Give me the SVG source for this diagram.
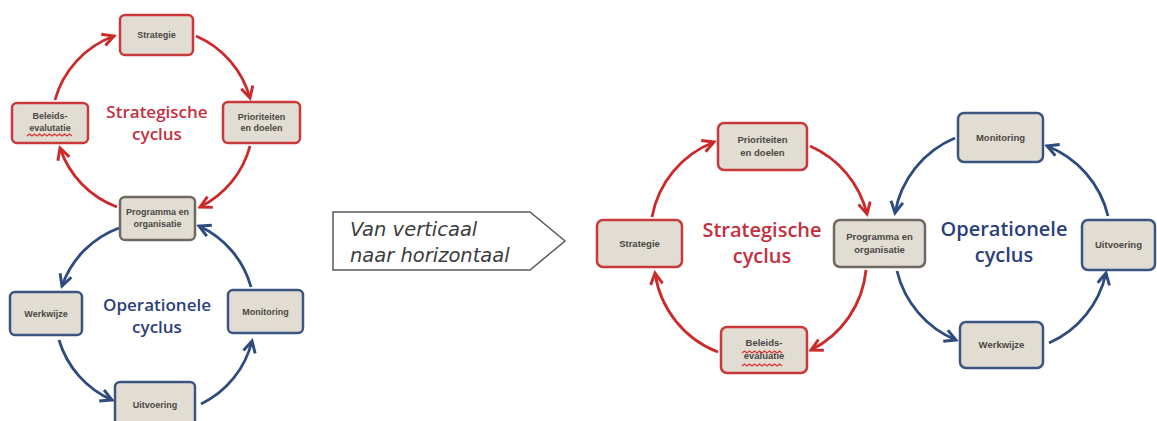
<svg xmlns="http://www.w3.org/2000/svg" width="1157" height="421" viewBox="0 0 1157 421">
<style>
.box{fill:#e2ddd2;stroke-width:2.5}
.r{stroke:#c9383a}
.g{stroke:#6e6963}
.b{stroke:#3b5583}
.lbl{font-family:"Liberation Sans",Arial,sans-serif;font-size:9px;font-weight:bold;fill:#4a4743;text-anchor:middle}
.lblb{font-size:9.5px}
.tr{font-family:"Open Sans","DejaVu Sans",sans-serif;font-size:17px;font-weight:600;fill:#c5303f;text-anchor:middle}
.tb{font-family:"Open Sans","DejaVu Sans",sans-serif;font-size:17px;font-weight:600;fill:#2b3f7c;text-anchor:middle}
.big{font-size:20px}
.ar{fill:none;stroke:#cc2a2a;stroke-width:2.8}
.ab{fill:none;stroke:#2d4b7d;stroke-width:2.8}
.sq{fill:none;stroke:#e03030;stroke-width:1.2}
.mid{font-family:"DejaVu Sans",sans-serif;font-style:italic;font-size:19.5px;fill:#3d3d3d}
</style>
<defs>
<marker id="mr" viewBox="0 0 12 12" refX="10" refY="6" markerWidth="16" markerHeight="16" markerUnits="userSpaceOnUse" orient="auto">
<path d="M1.5,1.5 L10,6 L1.5,10.5" fill="none" stroke="#cc2a2a" stroke-width="2.2"/>
</marker>
<marker id="mb" viewBox="0 0 12 12" refX="10" refY="6" markerWidth="16" markerHeight="16" markerUnits="userSpaceOnUse" orient="auto">
<path d="M1.5,1.5 L10,6 L1.5,10.5" fill="none" stroke="#2d4b7d" stroke-width="2.2"/>
</marker>
</defs>

<g id="connectors">
<path class="ar" d="M55,100 A95,95 0 0 1 114,36" marker-end="url(#mr)"/>
<path class="ar" d="M196,36 A95,95 0 0 1 250,98" marker-end="url(#mr)"/>
<path class="ar" d="M250,146 A95,95 0 0 1 200,207" marker-end="url(#mr)"/>
<path class="ar" d="M117,207 A95,95 0 0 1 60,148" marker-end="url(#mr)"/>
<path class="ab" d="M119,228 A95,95 0 0 0 62,286" marker-end="url(#mb)"/>
<path class="ab" d="M59,340 A95,95 0 0 0 112,400" marker-end="url(#mb)"/>
<path class="ab" d="M201,404 A95,95 0 0 0 252,341" marker-end="url(#mb)"/>
<path class="ab" d="M251,287 A95,95 0 0 0 199,226" marker-end="url(#mb)"/>
<path class="ar" d="M652,217 A100,100 0 0 1 714,142" marker-end="url(#mr)"/>
<path class="ar" d="M810,146 A100,100 0 0 1 867,214" marker-end="url(#mr)"/>
<path class="ar" d="M866,270 A100,100 0 0 1 811,350" marker-end="url(#mr)"/>
<path class="ar" d="M718,352 A100,100 0 0 1 655,273" marker-end="url(#mr)"/>
<path class="ab" d="M955,138 A100,100 0 0 0 895,213" marker-end="url(#mb)"/>
<path class="ab" d="M897,271 A100,100 0 0 0 956,340" marker-end="url(#mb)"/>
<path class="ab" d="M1049,343 A100,100 0 0 0 1106,273" marker-end="url(#mb)"/>
<path class="ab" d="M1108,216 A100,100 0 0 0 1047,146" marker-end="url(#mb)"/>
</g>

<g id="l-strategie">
<rect class="box r" x="120" y="15" width="73" height="40" rx="5"/>
<text class="lbl" x="156.5" y="38">Strategie</text>
</g>
<g id="l-prioriteiten">
<rect class="box r" x="223" y="102" width="77" height="41" rx="5"/>
<text class="lbl" x="261.5" y="120">Prioriteiten</text>
<text class="lbl" x="261.5" y="131">en doelen</text>
</g>
<g id="l-beleids">
<rect class="box r" x="12" y="103" width="76" height="40" rx="5"/>
<text class="lbl" x="50" y="119">Beleids-</text>
<text class="lbl" x="50" y="131">evalutatie</text>
<path class="sq" d="M27,136 l2.5,-2 l2.5,2 l2.5,-2 l2.5,2 l2.5,-2 l2.5,2 l2.5,-2 l2.5,2 l2.5,-2 l2.5,2 l2.5,-2 l2.5,2 l2.5,-2 l2.5,2 l2.5,-2 l2.5,2 l2.5,-2 l2.5,2"/>
</g>
<g id="l-strat-title">
<text class="tr" x="157" y="118">Strategische</text>
<text class="tr" x="157" y="140">cyclus</text>
</g>
<g id="l-programma">
<rect class="box g" x="120" y="197" width="75" height="43" rx="5"/>
<text class="lbl" x="157.5" y="215">Programma en</text>
<text class="lbl" x="157.5" y="227">organisatie</text>
</g>
<g id="l-werkwijze">
<rect class="box b" x="10" y="292" width="72" height="43" rx="5"/>
<text class="lbl" x="46" y="317">Werkwijze</text>
</g>
<g id="l-monitoring">
<rect class="box b" x="228" y="290" width="75" height="43" rx="5"/>
<text class="lbl" x="265.5" y="315">Monitoring</text>
</g>
<g id="l-uitvoering">
<rect class="box b" x="115" y="382" width="80" height="44" rx="5"/>
<text class="lbl" x="155" y="408">Uitvoering</text>
</g>
<g id="l-oper-title">
<text class="tb" x="157" y="311">Operationele</text>
<text class="tb" x="157" y="333">cyclus</text>
</g>

<g id="transition">
<polygon points="333,212 530,212 565,241 530,270 333,270" fill="#ffffff" stroke="#5a5a5a" stroke-width="1.5"/>
<text class="mid" x="350" y="236">Van verticaal</text>
<text class="mid" x="350" y="262">naar horizontaal</text>
</g>

<g id="r-prioriteiten">
<rect class="box r" x="718" y="123" width="89" height="47" rx="6"/>
<text class="lbl lblb" x="762.5" y="143">Prioriteiten</text>
<text class="lbl lblb" x="762.5" y="156">en doelen</text>
</g>
<g id="r-strategie">
<rect class="box r" x="597" y="220" width="85" height="47" rx="6"/>
<text class="lbl lblb" x="639.5" y="247">Strategie</text>
</g>
<g id="r-beleids">
<rect class="box r" x="721" y="327" width="86" height="46" rx="6"/>
<text class="lbl lblb" x="764" y="346">Beleids-</text>
<text class="lbl lblb" x="764" y="359">evaluatie</text>
<path class="sq" d="M742,353 l2.5,-2 l2.5,2 l2.5,-2 l2.5,2 l2.5,-2 l2.5,2 l2.5,-2 l2.5,2 l2.5,-2 l2.5,2 l2.5,-2 l2.5,2 l2.5,-2 l2.5,2 l2.5,-2 l2.5,2"/>
<path class="sq" d="M742,366 l2.5,-2 l2.5,2 l2.5,-2 l2.5,2 l2.5,-2 l2.5,2 l2.5,-2 l2.5,2 l2.5,-2 l2.5,2 l2.5,-2 l2.5,2 l2.5,-2 l2.5,2 l2.5,-2 l2.5,2"/>
</g>
<g id="r-strat-title">
<text class="tr big" x="762" y="237">Strategische</text>
<text class="tr big" x="762" y="263">cyclus</text>
</g>
<g id="r-programma">
<rect class="box g" x="834" y="220" width="91" height="47" rx="6"/>
<text class="lbl lblb" x="879.5" y="240">Programma en</text>
<text class="lbl lblb" x="879.5" y="253">organisatie</text>
</g>
<g id="r-monitoring">
<rect class="box b" x="958" y="113" width="85" height="49" rx="6"/>
<text class="lbl lblb" x="1000.5" y="141">Monitoring</text>
</g>
<g id="r-uitvoering">
<rect class="box b" x="1082" y="220" width="73" height="50" rx="6"/>
<text class="lbl lblb" x="1118.5" y="248">Uitvoering</text>
</g>
<g id="r-werkwijze">
<rect class="box b" x="960" y="322" width="83" height="46" rx="6"/>
<text class="lbl lblb" x="1001.5" y="348">Werkwijze</text>
</g>
<g id="r-oper-title">
<text class="tb big" x="1004" y="236">Operationele</text>
<text class="tb big" x="1004" y="262">cyclus</text>
</g>
</svg>
